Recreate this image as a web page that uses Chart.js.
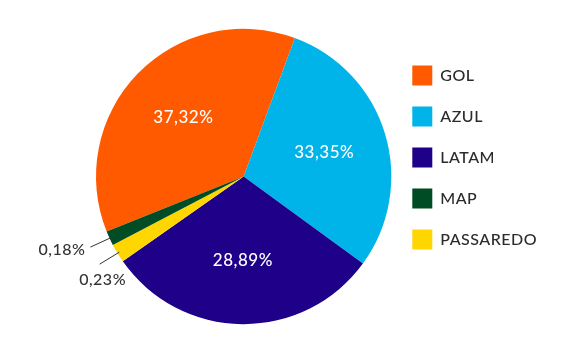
<!DOCTYPE html>
<html>
<head>
<meta charset="utf-8">
<script src="https://cdn.jsdelivr.net/npm/chart.js@4.4.0/dist/chart.umd.min.js"></script>
<style>
  html, body { margin: 0; padding: 0; background: #fff; }
  #wrap { width: 578px; height: 351px; position: relative; }
</style>
</head>
<body>
<div id="wrap"><canvas id="marketChart"></canvas></div>
<script>
// airlines in drawing order (clockwise, starting with GOL)
const airlines = ["GOL", "AZUL", "LATAM", "PASSAREDO", "MAP"];
// slice sizes as they are drawn in the picture (%)
const shares = [36.72, 29.39, 30.22, 2.08, 1.58];
// percentage texts printed on the chart
const pctLabels = ["37,32%", "33,35%", "28,89%", "0,23%", "0,18%"];
// order of the legend entries
const legendOrder = ["GOL", "AZUL", "LATAM", "MAP", "PASSAREDO"];

const colors = ["#ff5a00", "#00b4ea", "#1e0089", "#ffd600", "#004d25"];

// a little letter spacing, the original font runs wider than Lato
const spacing = {
  id: "spacing",
  beforeUpdate(chart) { chart.ctx.letterSpacing = "0.5px"; },
  beforeDraw(chart) { chart.ctx.letterSpacing = "0.5px"; }
};

// draws the percentages: inside big slices, with a leader line for tiny ones
const sliceLabels = {
  id: "sliceLabels",
  afterDatasetsDraw(chart) {
    const ctx = chart.ctx;
    const meta = chart.getDatasetMeta(0);
    ctx.save();
    meta.data.forEach((arc, i) => {
      const p = arc.getProps(["x", "y", "startAngle", "endAngle", "outerRadius"], true);
      const full = Math.PI * 2;
      const mid = (((p.startAngle + p.endAngle) / 2) % full + full) % full;
      const cos = Math.cos(mid), sin = Math.sin(mid);
      if (shares[i] >= 5) {
        ctx.font = "500 17px Lato";
        ctx.fillStyle = "#ffffff";
        ctx.textAlign = "center";
        ctx.textBaseline = "middle";
        ctx.fillText(pctLabels[i], p.x + cos * p.outerRadius * 0.57, p.y + sin * p.outerRadius * 0.57);
      } else {
        const x0 = p.x + cos * (p.outerRadius - 2), y0 = p.y + sin * (p.outerRadius - 2);
        const x1 = p.x + cos * (p.outerRadius + 21), y1 = p.y + sin * (p.outerRadius + 21);
        ctx.strokeStyle = "#333333";
        ctx.lineWidth = 1;
        ctx.beginPath();
        ctx.moveTo(x0, y0);
        ctx.lineTo(x1, y1);
        ctx.stroke();
        ctx.font = "500 16px Lato";
        ctx.fillStyle = "#333333";
        // slices pointing mostly down get the text under the line
        const fromBottom = Math.abs(mid - Math.PI / 2) * 180 / Math.PI;
        if (fromBottom < 62) {
          ctx.textAlign = "center";
          ctx.textBaseline = "top";
          ctx.fillText(pctLabels[i], x1 + 3, y1 + 8);
        } else {
          ctx.textAlign = "right";
          ctx.textBaseline = "middle";
          ctx.fillText(pctLabels[i], x1 - 5, y1 + 3);
        }
      }
    });
    ctx.restore();
  }
};

new Chart(document.getElementById("marketChart"), {
  type: "pie",
  data: {
    labels: airlines,
    datasets: [{
      data: shares,
      backgroundColor: colors,
      borderWidth: 0,
      hoverOffset: 0
    }]
  },
  options: {
    responsive: true,
    maintainAspectRatio: false,
    animation: false,
    rotation: 248.1,
    layout: { padding: { top: 27, bottom: 25, left: 96, right: 31 } },
    plugins: {
      tooltip: { enabled: false },
      legend: {
        position: "right",
        align: "start",
        title: { display: true, text: "", padding: { top: 0, bottom: 3 } },
        labels: {
          boxWidth: 20,
          boxHeight: 20,
          padding: 21,
          color: "#2b2b2b",
          font: { family: "Lato", size: 16, weight: "500" },
          sort: (a, b) => legendOrder.indexOf(a.text) - legendOrder.indexOf(b.text)
        }
      }
    }
  },
  plugins: [spacing, sliceLabels]
});
</script>
</body>
</html>
